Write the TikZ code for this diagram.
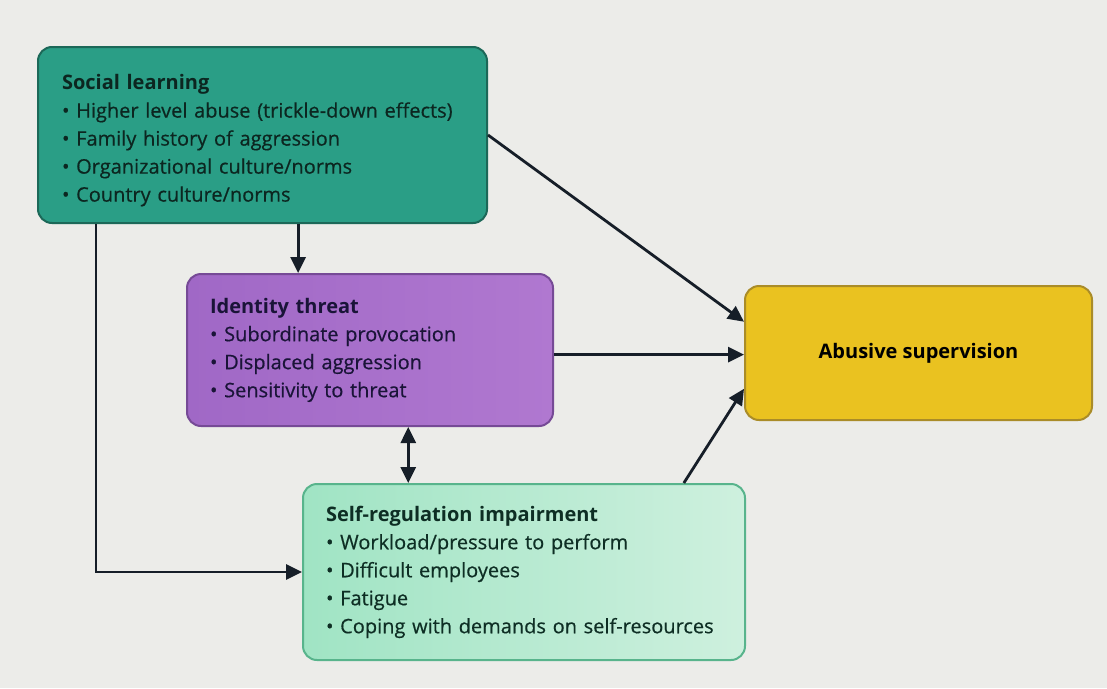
\documentclass[tikz,border=0pt]{standalone}
\usepackage{fontspec}
\setmainfont{Open Sans}[UprightFeatures={FakeBold=0.5}]
\usetikzlibrary{arrows.meta,calc}

\definecolor{bgpaper}{RGB}{236,236,233}
\definecolor{tealfill}{RGB}{42,158,134}
\definecolor{tealedge}{RGB}{28,104,88}
\definecolor{tealtext}{RGB}{12,38,32}
\definecolor{purpleL}{RGB}{160,104,198}
\definecolor{purpleM}{RGB}{200,148,218}
\definecolor{purpleR}{RGB}{176,120,208}
\definecolor{purpleedge}{RGB}{118,74,150}
\definecolor{purpletext}{RGB}{26,20,56}
\definecolor{mintL}{RGB}{160,228,196}
\definecolor{mintR}{RGB}{206,240,222}
\definecolor{mintedge}{RGB}{88,180,140}
\definecolor{minttext}{RGB}{14,46,36}
\definecolor{yellowfill}{RGB}{234,194,32}
\definecolor{yellowedge}{RGB}{170,140,40}
\definecolor{arrowink}{RGB}{22,30,40}

\tikzset{
  x=1pt, y=-1pt,
  box/.style={rectangle, rounded corners=14pt, line width=2pt, align=left,
    inner xsep=0pt, inner ysep=0pt, font=\fontsize{20}{28}\selectfont},
  link/.style={draw=arrowink, line width=2.8pt,
    -{Triangle[length=16pt,width=15pt]}},
  twolink/.style={draw=arrowink, line width=2.8pt,
    {Triangle[length=16pt,width=15pt]}-{Triangle[length=16pt,width=15pt]}},
}

\begin{document}
\begin{tikzpicture}
  \fill[bgpaper] (0,0) rectangle (1107,688);
  \useasboundingbox (0,0) rectangle (1107,688);

  % Social learning
  \node[box, fill=tealfill, draw=tealedge, text=tealtext,
        minimum width=449pt, minimum height=176pt, text width=401pt]
    (sl) at (262.5,135)
    {\rule{0pt}{26pt}\textbf{Social learning}\\
     • Higher level abuse (trickle-down effects)\\
     • Family history of aggression\\
     • Organizational culture/norms\\
     • Country culture/norms};

  % Identity threat
  \node[box, left color=purpleL, middle color=purpleM, right color=purpleR,
        draw=purpleedge, text=purpletext,
        minimum width=366pt, minimum height=152pt, text width=320pt]
    (it) at (370,350)
    {\textbf{Identity threat}\\
     • Subordinate provocation\\
     • Displaced aggression\\
     • Sensitivity to threat};

  % Self-regulation impairment
  \node[box, left color=mintL, right color=mintR, draw=mintedge, text=minttext,
        minimum width=442pt, minimum height=176pt, text width=396pt]
    (sr) at (524,572)
    {\textbf{Self-regulation impairment}\\
     • Workload/pressure to perform\\
     • Difficult employees\\
     • Fatigue\\
     • Coping with demands on self-resources};

  % Abusive supervision
  \node[box, fill=yellowfill, draw=yellowedge, text=black, align=center,
        minimum width=347pt, minimum height=134pt]
    (ab) at (918.5,353)
    {\textbf{Abusive supervision}};

  % anchor points along the box edges
  \coordinate (slA) at ($(sl.south west)!0.579!(sl.south east)$);
  \coordinate (slB) at ($(sl.south west)!0.131!(sl.south east)$);
  \coordinate (itR) at ($(it.north east)!0.53!(it.south east)$);
  \coordinate (itB) at ($(it.south west)!0.604!(it.south east)$);
  \coordinate (srT) at ($(sr.north west)!0.86!(sr.north east)$);
  \coordinate (abU) at ($(ab.north west)!0.27!(ab.south west)$);
  \coordinate (abL) at ($(ab.north west)!0.763!(ab.south west)$);
  \coordinate (bend) at (slB |- sr.west);

  % connectors
  \draw[link] (sl.east) -- (abU);
  \draw[link] (slA) -- (slA |- it.north);
  \draw[link] (slB) -- (bend) -- (sr.west);
  \draw[link] (itR) -- (itR -| ab.west);
  \draw[twolink] (itB) -- (itB |- sr.north);
  \draw[link] (srT) -- (abL);
\end{tikzpicture}
\end{document}
